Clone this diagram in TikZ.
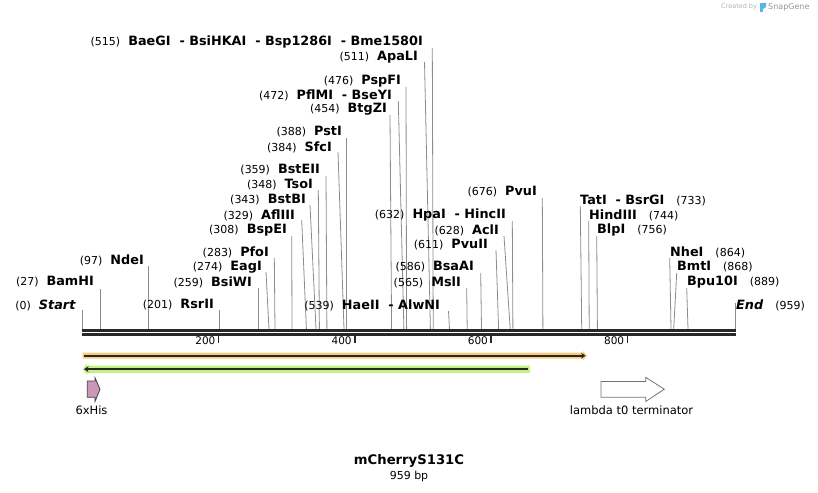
\documentclass[tikz,border=0pt]{standalone}
\usepackage{fontspec}
\setmainfont{DejaVu Sans}
\usepackage{xcolor}
\usetikzlibrary{arrows.meta}
\definecolor{leadgray}{RGB}{140,140,140}
\definecolor{seqdark}{RGB}{40,40,40}
\definecolor{barorange}{RGB}{250,204,128}
\definecolor{bargreen}{RGB}{192,242,132}
\definecolor{hispink}{RGB}{204,150,184}
\definecolor{sglogo}{RGB}{90,180,230}
\newcommand{\sitepos}[1]{{\mdseries\fontsize{11}{13}\selectfont(#1)}}

\begin{document}
\begin{tikzpicture}[x=1pt, y=-1pt, >=Stealth,
  lab/.style={font=\fontsize{12.8}{14}\selectfont\bfseries, inner sep=0pt},
  leader/.style={draw=leadgray, line width=0.8pt},
  seqline/.style={draw=seqdark, line width=2.3pt},
  ticklab/.style={font=\fontsize{10.5}{12}\selectfont, inner sep=0pt},
  featlab/.style={font=\fontsize{11.5}{13}\selectfont, inner sep=0pt},
  barline/.style={draw=seqdark, line width=2pt, -{Stealth[length=4.5pt,width=6pt]}}]
  \useasboundingbox (0,0) rectangle (818,492);
  % Logo
  \node[font=\fontsize{6.5}{8}\selectfont, text=black!30, inner sep=0pt, anchor=west] (made) at (721,7) {Created by};
  \fill[sglogo] (760,3) rectangle (763,12);
  \fill[sglogo] (763,3) -- (766,3) -- (766,7) -- (763,9) -- cycle;
  \node[font=\fontsize{8}{9}\selectfont, text=black!42, inner sep=0pt, anchor=west] (sg) at (768,7) {SnapGene};
  % Leader lines
  \foreach \n/\xa/\ya/\xb in {0/82.3/310/82.3, 27/100.5/289/100.5, 97/148.4/266/148.4,
      201/219.2/310/219.2, 259/258.5/288/258.5, 274/266/272/269, 283/274.3/258/275,
      308/291.7/236/292, 329/301.7/220/306.4, 343/310/205/316, 348/318.3/190/319.4,
      359/326/176/326.9, 384/338/152/344, 388/346.7/138/346.7, 454/390/115/391.6,
      472/398.3/101/403.9, 476/406/87/406.6, 511/424.5/62/430.4, 515/432.3/48/433.2,
      539/448.5/311/449.5, 565/466.7/288/467.2, 586/480.7/273/481.5, 611/496/250/498.6,
      628/504/236/510.2, 632/512.3/221/512.9, 676/542.3/198/542.9, 733/580.3/206/581.7,
      744/588.7/221/589.2, 756/596.7/236/597.4, 864/669.7/258/671, 868/676.7/273/673.7,
      889/686.7/288/688, 959/735.7/303/735.7}{
    \coordinate (t\n) at (\xa,\ya);
    \coordinate (c\n) at (\xb,329);
    \draw[leader] (t\n) -- (c\n);
  }
  % Site labels, left of the cut
  \foreach \n/\x/\y/\txt in {515/423/42/{BaeGI~~- BsiHKAI~~- Bsp1286I~~- Bme1580I},
      511/418/57/ApaLI, 476/401/81/PspFI, 472/392/95/{PflMI~~- BseYI}, 454/387/109/BtgZI,
      388/342/132/PstI, 384/332/147/SfcI, 359/320/170/BstEII, 348/313/185/TsoI,
      343/306/200/BstBI, 329/295/215/AflIII, 308/287/230/BspEI, 283/269/252/PfoI,
      274/262/267/EagI, 259/252/282/BsiWI, 201/214/305/RsrII, 97/144/260/NdeI,
      27/94/282/BamHI, 539/440/305/{HaeII~~- AlwNI}, 565/461/282/MslI, 586/474/267/BsaAI,
      611/488/245/PvuII, 628/499/230/AclI, 632/506/215/{HpaI~~- HincII}, 676/537/192/PvuI}{
    \node[lab, anchor=east] (l\n) at (\x,\y) {\sitepos{\n}\hspace{8pt}\txt};
  }
  \node[lab, anchor=east] (l0) at (76,305) {\sitepos{0}\hspace{8pt}\textit{Start}};
  % Site labels, right of the cut
  \foreach \n/\x/\y/\txt in {733/580/200/{TatI~~- BsrGI}, 744/589/215/HindIII,
      756/597/230/BlpI, 864/670/252/NheI, 868/677/267/BmtI, 889/687/282/Bpu10I}{
    \node[lab, anchor=west] (l\n) at (\x,\y) {\txt\hspace{12pt}\sitepos{\n}};
  }
  \node[lab, anchor=west] (l959) at (736,305) {\textit{End}\hspace{12pt}\sitepos{959}};
  % Sequence
  \coordinate (seqA) at (82.3,330.5);
  \coordinate (seqB) at (735.7,330.5);
  \coordinate (seqC) at (82.3,334.6);
  \coordinate (seqD) at (735.7,334.6);
  \draw[seqline] (seqA) -- (seqB);
  \draw[seqline] (seqC) -- (seqD);
  % Ruler
  \foreach \k in {200,400,600,800}{
    \coordinate (k\k) at ({82.3+0.6813*\k},335.5);
    \draw[seqdark, line width=1.5pt] (k\k) -- ++(0,7);
    \node[ticklab, anchor=east] (n\k) at ({82.3+0.6813*\k-3},341) {\k};
  }
  % Features
  \fill[barorange] (82.7,352.7) -- (583,352.7) -- (583,351) -- (587,355.7) -- (583,360.4) -- (583,358.7) -- (82.7,358.7) -- cycle;
  \coordinate (oa) at (83.5,355.7);
  \coordinate (ob) at (585.5,355.7);
  \draw[barline] (oa) -- (ob);
  \fill[bargreen] (87,365.6) -- (87,363.5) -- (82.5,369.2) -- (87,374.9) -- (87,372.8) -- (530,372.8) -- (530,365.6) -- cycle;
  \coordinate (ga) at (527.7,369.2);
  \coordinate (gb) at (84,369.2);
  \draw[barline] (ga) -- (gb);
  \draw[fill=hispink, draw=black!75, line width=0.8pt]
    (87.3,381) -- (95,381) -- (95,377.7) -- (100,389.3) -- (95,401.5) -- (95,397.3) -- (87.3,397.3) -- cycle;
  \node[featlab] (his) at (91.5,410.5) {6xHis};
  \draw[fill=white, draw=black!55, line width=0.8pt]
    (601,381.5) -- (645.7,381.5) -- (645.7,377.3) -- (664.3,389.2) -- (645.7,401.5) -- (645.7,397.3) -- (601,397.3) -- cycle;
  \node[featlab] (lam) at (631.5,410.5) {lambda t0 terminator};
  % Title
  \node[font=\fontsize{13.2}{15}\selectfont\bfseries, inner sep=0pt] (name) at (409,461) {mCherryS131C};
  \node[font=\fontsize{11}{13}\selectfont, inner sep=0pt] (size) at (409,476) {959 bp};
\end{tikzpicture}
\end{document}
